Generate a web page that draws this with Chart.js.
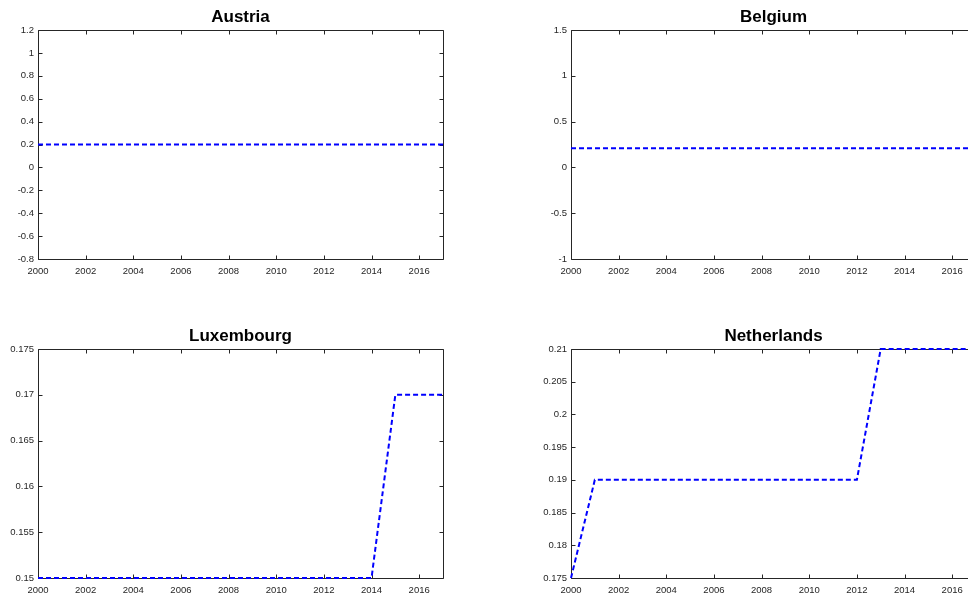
<!DOCTYPE html>
<html>
<head>
<meta charset="utf-8">
<script src="https://cdn.jsdelivr.net/npm/chart.js@4.4.1/dist/chart.umd.min.js"></script>
<style>
  html, body { margin: 0; padding: 0; background: #fff; overflow: hidden; width: 968px; height: 595px; }
  .pane { position: absolute; width: 484px; height: 297px; }
</style>
</head>
<body>
<div class="pane" style="left:0;top:0"><canvas id="c0"></canvas></div>
<div class="pane" style="left:533px;top:0"><canvas id="c1"></canvas></div>
<div class="pane" style="left:0;top:319px"><canvas id="c2"></canvas></div>
<div class="pane" style="left:533px;top:319px"><canvas id="c3"></canvas></div>
<script>
// Country panels, 2000-2017
const years = [2000, 2001, 2002, 2003, 2004, 2005, 2006, 2007, 2008, 2009,
               2010, 2011, 2012, 2013, 2014, 2015, 2016, 2017];
const xTicks = [2000, 2002, 2004, 2006, 2008, 2010, 2012, 2014, 2016];

const austria     = [0.2, 0.2, 0.2, 0.2, 0.2, 0.2, 0.2, 0.2, 0.2, 0.2, 0.2, 0.2, 0.2, 0.2, 0.2, 0.2, 0.2, 0.2];
const belgium     = [0.21, 0.21, 0.21, 0.21, 0.21, 0.21, 0.21, 0.21, 0.21, 0.21, 0.21, 0.21, 0.21, 0.21, 0.21, 0.21, 0.21, 0.21];
const luxembourg  = [0.15, 0.15, 0.15, 0.15, 0.15, 0.15, 0.15, 0.15, 0.15, 0.15, 0.15, 0.15, 0.15, 0.15, 0.15, 0.17, 0.17, 0.17];
const netherlands = [0.175, 0.19, 0.19, 0.19, 0.19, 0.19, 0.19, 0.19, 0.19, 0.19, 0.19, 0.19, 0.19, 0.21, 0.21, 0.21, 0.21, 0.21];

const austriaTicks     = [-0.8, -0.6, -0.4, -0.2, 0, 0.2, 0.4, 0.6, 0.8, 1, 1.2];
const belgiumTicks     = [-1, -0.5, 0, 0.5, 1, 1.5];
const luxembourgTicks  = [0.15, 0.155, 0.16, 0.165, 0.17, 0.175];
const netherlandsTicks = [0.175, 0.18, 0.185, 0.19, 0.195, 0.2, 0.205, 0.21];

const FONT = "'Liberation Sans', Arial, Helvetica, sans-serif";
const AXIS = '#262626';

// MATLAB-like box with inward tick marks on all four sides,
// drawn under the data so lines at the limits stay visible
const boxPlugin = {
  id: 'box',
  beforeDatasetsDraw(chart) {
    const { ctx, chartArea: a, scales: { x, y } } = chart;
    const L = Math.round(a.left) + 0.5, R = Math.round(a.right) + 0.5;
    const T = Math.round(a.top) + 0.5, B = Math.round(a.bottom) + 0.5;
    const len = 4;
    ctx.save();
    ctx.strokeStyle = AXIS;
    ctx.lineWidth = 1;
    ctx.beginPath();
    ctx.rect(L, T, R - L, B - T);
    x.ticks.forEach(t => {
      const px = Math.round(x.getPixelForValue(t.value)) + 0.5;
      ctx.moveTo(px, B); ctx.lineTo(px, B - len);
      ctx.moveTo(px, T); ctx.lineTo(px, T + len);
    });
    y.ticks.forEach(t => {
      const py = Math.round(y.getPixelForValue(t.value)) + 0.5;
      ctx.moveTo(L, py); ctx.lineTo(L + len, py);
      ctx.moveTo(R, py); ctx.lineTo(R - len, py);
    });
    ctx.stroke();
    ctx.restore();
  }
};

function makePanel(id, title, values, yTicks) {
  const yMin = yTicks[0], yMax = yTicks[yTicks.length - 1];
  return new Chart(document.getElementById(id), {
    type: 'line',
    data: {
      datasets: [{
        data: years.map((yr, i) => ({ x: yr, y: values[i] })),
        borderColor: '#0000ff',
        borderWidth: 2,
        borderDash: [5, 3],
        pointRadius: 0,
        tension: 0,
        clip: 3
      }]
    },
    options: {
      responsive: true,
      maintainAspectRatio: false,
      animation: false,
      events: [],
      layout: { padding: { left: 0, right: 41, top: 0, bottom: 0 } },
      plugins: {
        legend: { display: false },
        tooltip: { enabled: false },
        title: {
          display: true,
          text: title,
          fullSize: false,
          color: '#000',
          font: { family: FONT, size: 17, weight: 'bold', lineHeight: 1.2 },
          padding: { top: 7, bottom: 2.6 }
        }
      },
      scales: {
        x: {
          type: 'linear',
          min: 2000, max: 2017,
          grid: { display: false, drawTicks: false, tickLength: 0 },
          border: { display: false },
          afterFit: s => { s.height = 38; },
          afterBuildTicks: s => { s.ticks = xTicks.map(v => ({ value: v })); },
          ticks: {
            color: AXIS,
            padding: 7,
            maxRotation: 0,
            autoSkip: false,
            font: { family: FONT, size: 9.5 },
            callback: v => String(v)
          }
        },
        y: {
          type: 'linear',
          min: yMin, max: yMax,
          grid: { display: false, drawTicks: false, tickLength: 0 },
          border: { display: false },
          afterFit: s => { s.width = 38; },
          afterBuildTicks: s => { s.ticks = yTicks.map(v => ({ value: v })); },
          ticks: {
            color: AXIS,
            padding: 4,
            autoSkip: false,
            font: { family: FONT, size: 9.5 },
            callback: v => String(Number(v.toFixed(4)))
          }
        }
      }
    },
    plugins: [boxPlugin]
  });
}

makePanel('c0', 'Austria', austria, austriaTicks);
makePanel('c1', 'Belgium', belgium, belgiumTicks);
makePanel('c2', 'Luxembourg', luxembourg, luxembourgTicks);
makePanel('c3', 'Netherlands', netherlands, netherlandsTicks);
</script>
</body>
</html>
